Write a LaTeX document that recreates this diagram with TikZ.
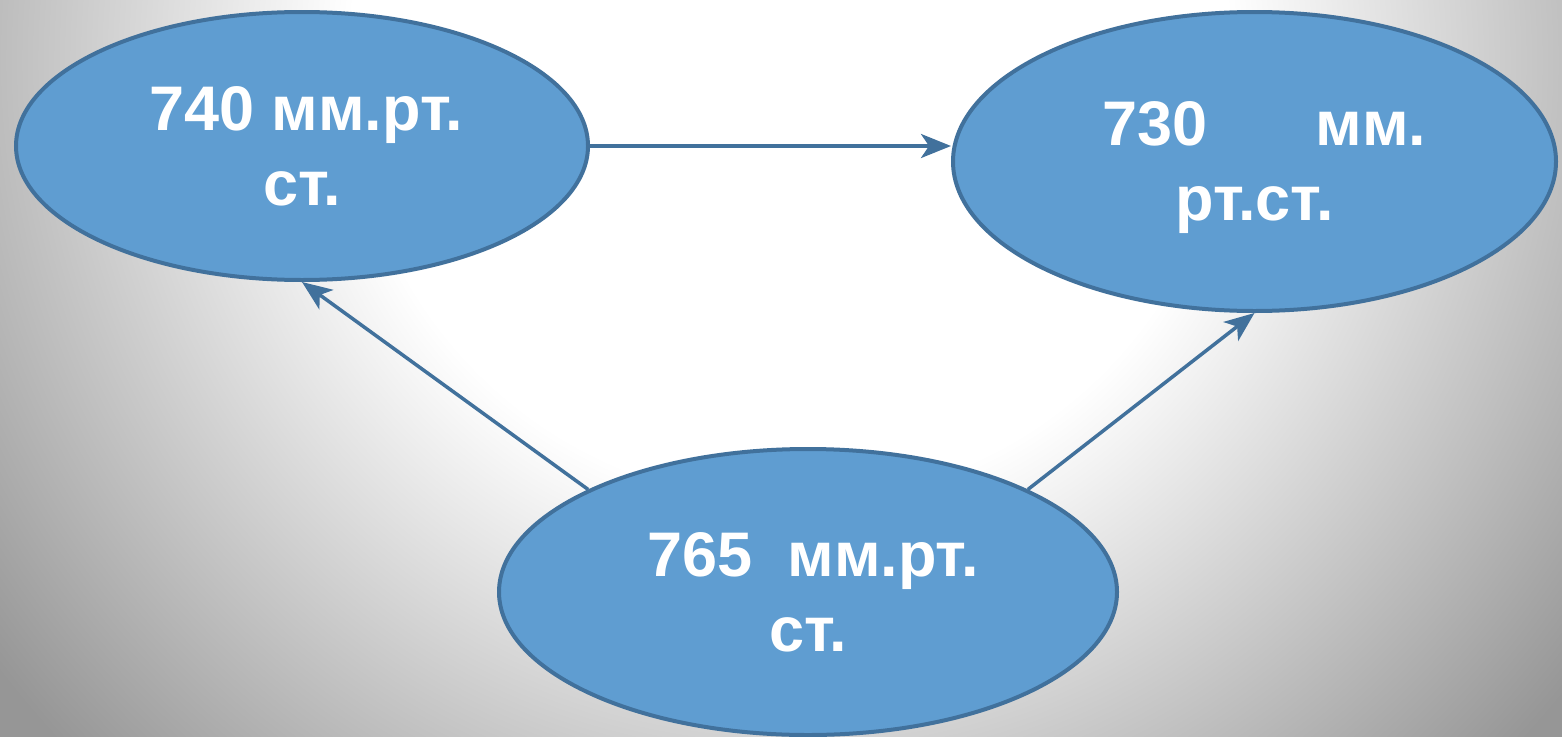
\documentclass[tikz,border=0pt]{standalone}
\usepackage{fontspec}
\setmainfont{Liberation Sans}
\usetikzlibrary{shapes.geometric,arrows.meta}
\definecolor{ellfill}{RGB}{95,157,209}
\definecolor{ellline}{RGB}{65,113,156}
\definecolor{bggray}{RGB}{150,150,150}
\pgfdeclareradialshading{bgshade}{\pgfpoint{0bp}{0bp}}{color(0bp)=(white); color(11bp)=(white); color(25bp)=(bggray); color(50bp)=(bggray)}
\tikzset{
  state/.style={ellipse, draw=ellline, line width=4pt, fill=ellfill, text=white,
    font=\fontsize{63}{75}\selectfont\bfseries, align=center, inner sep=0pt},
  arr/.style={draw=ellline, line width=3.5pt, -{Stealth[length=30pt,width=24pt,inset=8pt]}}
}
\begin{document}
\begin{tikzpicture}[x=1pt,y=-1pt]
\useasboundingbox (0,0) rectangle (1562,736);
\begin{scope}
  \clip (0,0) rectangle (1562,736);
  \shade[shading=bgshade] (-210,-940) rectangle (1790,1060);
\end{scope}
\node[state, minimum width=572pt, minimum height=268pt] (A) at (302,146) {\hspace*{8pt}740 мм.рт.\\ст.};
\node[state, minimum width=603pt, minimum height=299pt, text depth=0pt] (B) at (1254.5,161.5) {\hspace*{20pt}730\hspace{108pt}мм.\\рт.ст.};
\node[state, minimum width=618pt, minimum height=286pt] (C) at (808,592) {\hspace*{10pt}765\ \ мм.рт.\\ст.};
\draw[arr] (A.east) -- (A.east -| B.west);
\draw[arr] (C.155) -- (A.south);
\draw[arr] (C.25) -- (B.south);
\end{tikzpicture}
\end{document}
